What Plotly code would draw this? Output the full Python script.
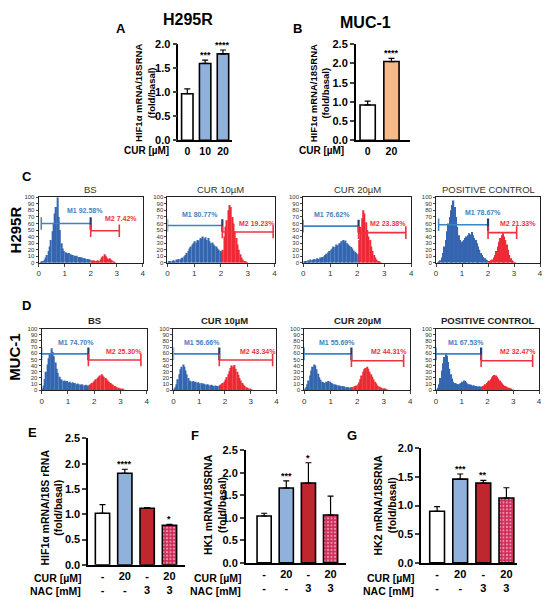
import plotly.graph_objects as go

W, H = 550, 613
FONT = "Liberation Sans, Arial, sans-serif"

# ---------------- data ----------------
A_labels = ["0", "10", "20"]
A_vals = [0.97, 1.60, 1.80]
A_err = [0.10, 0.07, 0.08]
A_stars = ["", "***", "****"]

B_labels = ["0", "20"]
B_vals = [0.92, 2.05]
B_err = [0.10, 0.08]
B_stars = ["", "****"]

CUR_labels = ["-", "20", "-", "20"]
NAC_labels = ["-", "-", "3", "3"]
E_vals = [1.02, 1.81, 1.12, 0.78]
E_err = [0.17, 0.08, 0.01, 0.02]
E_stars = ["", "****", "", "*"]
F_vals = [1.04, 1.66, 1.77, 1.06]
F_err = [0.06, 0.16, 0.45, 0.42]
F_stars = ["", "***", "*", ""]
G_vals = [0.90, 1.46, 1.39, 1.13]
G_err = [0.08, 0.09, 0.05, 0.18]
G_stars = ["", "***", "**", ""]

hist_titles = ["BS", "CUR 10µM", "CUR 20µM", "POSITIVE CONTROL"]
BIN = 0.05  # bin width of the flow-cytometry histograms (x from 0)

C_BS = [0, 1, 2, 3, 5, 8, 12, 18, 25, 35, 48, 60, 75, 85, 100, 70, 50, 30, 22, 18,
        16, 15, 14, 15, 13, 12, 12, 11, 10, 11, 9, 9, 8, 8, 7, 7, 6, 6, 5, 5,
        4, 3, 4, 3, 3, 4, 3, 5, 8, 10, 13, 11, 8, 6, 7, 5, 4, 2, 1]
C_CUR10 = [2, 3, 2, 3, 4, 3, 5, 4, 6, 5, 7, 8, 10, 12, 15, 18, 22, 25, 28, 30,
           33, 31, 35, 34, 38, 36, 40, 37, 39, 35, 38, 33, 30, 31, 28, 26, 25, 22, 20, 18,
           17, 20, 40, 55, 65, 80, 88, 85, 70, 60, 48, 38, 28, 20, 13, 8, 5, 3, 2, 1]
C_CUR20 = [2, 3, 3, 4, 3, 5, 4, 5, 6, 5, 7, 6, 8, 7, 9, 10, 12, 14, 16, 18,
           20, 22, 25, 24, 28, 27, 30, 29, 33, 35, 31, 34, 30, 28, 26, 24, 22, 19, 17, 15,
           13, 35, 55, 68, 80, 75, 62, 50, 40, 35, 25, 18, 12, 8, 5, 3, 2, 1]
C_PC = [0, 1, 2, 4, 8, 15, 25, 35, 48, 60, 70, 80, 88, 95, 85, 70, 55, 42, 35, 32,
        33, 35, 38, 40, 42, 45, 43, 47, 42, 38, 35, 30, 25, 20, 15, 12, 9, 7, 5, 4,
        3, 3, 4, 5, 8, 12, 18, 25, 32, 38, 42, 45, 40, 35, 28, 20, 12, 7, 4, 2, 1]
D_BS = [2, 8, 18, 30, 42, 52, 60, 68, 62, 55, 45, 35, 28, 22, 18, 17, 15, 16, 14, 15,
        13, 14, 12, 13, 11, 12, 10, 11, 10, 9, 10, 9, 8, 9, 8, 8,
        9, 10, 12, 14, 16, 18, 20, 22, 24, 26, 24, 22, 20, 18, 16, 14, 12, 10, 9, 7,
        6, 5, 4, 3, 3, 2, 1]
D_CUR10 = [2, 5, 10, 18, 26, 34, 38, 42, 38, 32, 26, 20, 16, 15, 14, 15, 13, 14, 12, 13,
           11, 12, 10, 11, 10, 9, 10, 9, 8, 9, 8, 7, 8, 7, 7, 8,
           9, 10, 12, 14, 17, 21, 26, 31, 36, 40, 38, 41, 35, 30, 25, 20, 16, 12, 9, 7,
           5, 4, 3, 2, 1]
D_CUR20 = [2, 5, 10, 16, 24, 32, 38, 42, 40, 34, 27, 21, 17, 14, 13, 12, 14, 13, 15, 14,
           12, 11, 10, 9, 9, 8, 8, 7, 7, 6, 6, 5, 5, 5, 4, 5,
           5, 6, 7, 8, 10, 13, 18, 24, 30, 34, 36, 38, 35, 30, 26, 22, 18, 14, 11, 8,
           6, 5, 4, 3, 2, 2, 1]
D_PC = [1, 4, 10, 20, 32, 44, 54, 60, 56, 46, 35, 26, 19, 14, 12, 11, 10, 10, 11, 12,
        14, 16, 15, 13, 11, 10, 9, 9, 8, 8, 7, 7, 6, 6, 6,
        6, 7, 8, 10, 12, 14, 16, 18, 21, 23, 25, 24, 22, 19, 16, 13, 11, 9, 7, 6,
        5, 4, 3, 2, 1]

C_m1_start = [0.1, 0.0, 0.0, 0.1]
C_m1_end = [2.0, 2.05, 2.05, 2.0]
C_m1_y = [60, 57, 56, 58]
C_m2_end = [3.1, 3.95, 3.8, 3.1]
C_m2_y = [49, 47, 46, 46]
C_m1_text = ["M1 92.58%", "M1 80.77%", "M1 76.62%", "M1 78.67%"]
C_m2_text = ["M2 7.42%", "M2 19.23%", "M2 23.38%", "M2 21.33%"]

D_m1_start = [0.0, 0.0, 0.0, 0.0]
D_m1_end = [1.78, 1.78, 1.78, 1.75]
D_m1_y = [59, 59, 59, 59]
D_m2_end = [3.78, 3.85, 3.75, 3.75]
D_m2_y = [49, 49, 48, 48]
D_m1_text = ["M1 74.70%", "M1 56.66%", "M1 55.69%", "M1 67.53%"]
D_m2_text = ["M2 25.30%", "M2 43.34%", "M2 44.31%", "M2 32.47%"]

# ---------------- styling ----------------
HBLUE, HRED = "#3566b0", "#ec2b36"
MBLUE, MRED = "#3f83c2", "#ec3340"
BAR_BLUE, BAR_RED, BAR_ORANGE = "#8fb1db", "#bf262d", "#f6b98a"
PAT_RED, PAT_LIGHT = "#cf2a58", "#b9d6d0"

fig = go.Figure()
layout = dict(width=W, height=H, margin=dict(l=0, r=0, t=0, b=0), autosize=False,
              paper_bgcolor="white", plot_bgcolor="white", showlegend=False,
              font=dict(family=FONT, color="black"))
annotations = []


def xd(a, b):
    return [a / W, b / W]


def yd(bottom, top):
    return [1 - bottom / H, 1 - top / H]


def pa(text, x, y, size, color="black", angle=0, xanchor="center", bold=True):
    annotations.append(dict(text=text, x=x / W, y=1 - y / H, xref="paper", yref="paper",
                            showarrow=False, textangle=angle, xanchor=xanchor, yanchor="middle",
                            font=dict(family=FONT, size=size, color=color,
                                      weight="bold" if bold else "normal")))


def bar_panel(n, xdom, ydom, xrange, yrange, dtick, vals, errs, stars, colors,
              ticktext, patterned=None, tickfs=11, ytfs=11):
    ax = "" if n == 1 else str(n)
    xs = list(range(len(vals)))
    shapes_ = ["." if (patterned and patterned[i]) else "" for i in xs]
    fig.add_trace(go.Bar(
        x=xs, y=vals, width=0.64, xaxis="x" + ax, yaxis="y" + ax,
        marker=dict(color=colors, line=dict(color="black", width=1.6),
                    pattern=dict(shape=shapes_, fgcolor=PAT_LIGHT,
                                 size=3.5, solidity=0.3, fillmode="overlay")),
        error_y=dict(type="data", array=errs, arrayminus=[0] * len(errs), symmetric=False,
                     color="black", thickness=1.2, width=3),
    ))
    layout["xaxis" + ax] = dict(domain=xdom, range=xrange, anchor="y" + ax, showline=True,
                                linecolor="black", linewidth=1.6, ticks="", showgrid=False,
                                zeroline=False, tickvals=xs, ticktext=ticktext,
                                tickfont=dict(size=tickfs, weight="bold", family=FONT))
    layout["yaxis" + ax] = dict(domain=ydom, range=yrange, anchor="x" + ax, showline=True,
                                linecolor="black", linewidth=1.6, ticks="outside", ticklen=4,
                                tickwidth=1.5, dtick=dtick, tickformat=".1f", showgrid=False,
                                zeroline=False, tickfont=dict(size=ytfs, weight="bold", family=FONT))
    for i, s in enumerate(stars):
        if s:
            annotations.append(dict(text=s, x=i, y=vals[i] + errs[i], xref="x" + ax, yref="y" + ax,
                                    showarrow=False, yanchor="bottom", yshift=-2,
                                    font=dict(family=FONT, size=9, weight="bold")))


def hist_panel(n, xdom, ydom, counts, thr, m1s, m1e, m1y, m2e, m2y, t1, t2, l1x, l1y, l2x, l2y):
    ax = str(n)
    centers = [BIN * i + BIN / 2 for i in range(len(counts))]
    cols = [HBLUE if c < thr else HRED for c in centers]
    fig.add_trace(go.Bar(x=centers, y=counts, width=BIN, marker=dict(color=cols, line=dict(width=0)),
                         xaxis="x" + ax, yaxis="y" + ax))
    fig.add_trace(go.Scatter(x=[m1s, m1e], y=[m1y, m1y], mode="lines+markers", xaxis="x" + ax,
                             yaxis="y" + ax, line=dict(color=MBLUE, width=1.6),
                             marker=dict(symbol="line-ns", size=9,
                                         line=dict(color=[MBLUE, "#1d3f75"], width=[1.5, 2.2]))))
    fig.add_trace(go.Scatter(x=[m1e, m2e], y=[m2y, m2y], mode="lines+markers", xaxis="x" + ax,
                             yaxis="y" + ax, line=dict(color=MRED, width=1.6),
                             marker=dict(symbol="line-ns", size=9, line=dict(color=MRED, width=1.6))))
    annotations.append(dict(text=t1, x=l1x, y=l1y, xref="x" + ax, yref="y" + ax, showarrow=False,
                            font=dict(family=FONT, size=7, color=MBLUE, weight="bold")))
    annotations.append(dict(text=t2, x=l2x, y=l2y, xref="x" + ax, yref="y" + ax, showarrow=False,
                            font=dict(family=FONT, size=7, color=MRED, weight="bold")))
    layout["xaxis" + ax] = dict(domain=xdom, range=[0, 4], anchor="y" + ax, showline=True, mirror=True,
                                linecolor="#222", linewidth=1, ticks="outside", ticklen=3,
                                tickvals=[0, 1, 2, 3, 4], showgrid=False, zeroline=False,
                                tickfont=dict(size=8, color="#333", family=FONT))
    layout["yaxis" + ax] = dict(domain=ydom, range=[0, 100], anchor="x" + ax, showline=True, mirror=True,
                                linecolor="#222", linewidth=1, ticks="outside", ticklen=2,
                                tickvals=list(range(0, 101, 10)), showgrid=False, zeroline=False,
                                tickfont=dict(size=6, color="#333", family=FONT))


# ---- A ----
bar_panel(1, xd(178, 232), yd(137, 39), [-0.5, 2.5], [0, 2.0], 0.5,
          A_vals, A_err, A_stars, ["white", BAR_BLUE, BAR_BLUE], A_labels, tickfs=10.5, ytfs=11)
# ---- B ----
bar_panel(2, xd(357, 412), yd(137, 39), [-0.5, 1.79], [0, 2.5], 0.5,
          B_vals, B_err, B_stars, ["white", BAR_ORANGE], B_labels, tickfs=10.5, ytfs=11)

# ---- C histograms ----
C_hists = [C_BS, C_CUR10, C_CUR20, C_PC]
C_x = [(37, 142), (167, 275), (304, 413), (438, 543)]
C_l1x = [1.8, 1.23, 1.06, 1.82]
C_l1y = [80, 74, 74, 77]
C_l2x = [3.17, 3.33, 3.14, 3.17]
C_l2y = [67, 60, 60, 60]
for k in range(4):
    hist_panel(3 + k, xd(*C_x[k]), yd(262, 195), C_hists[k], C_m1_end[k], C_m1_start[k], C_m1_end[k],
               C_m1_y[k], C_m2_end[k], C_m2_y[k], C_m1_text[k], C_m2_text[k],
               C_l1x[k], C_l1y[k], C_l2x[k], C_l2y[k])
    pa(hist_titles[k], (C_x[k][0] + C_x[k][1]) / 2, 187, 9.5, color="#333", bold=False)

# ---- D histograms ----
D_hists = [D_BS, D_CUR10, D_CUR20, D_PC]
D_x = [(40, 146), (173, 277), (305, 412), (438, 542)]
D_l1x = [1.32, 1.09, 1.25, 1.18]
D_l2x = [3.14, 3.3, 3.2, 3.17]
for k in range(4):
    hist_panel(7 + k, xd(*D_x[k]), yd(392, 329), D_hists[k], D_m1_end[k], D_m1_start[k], D_m1_end[k],
               D_m1_y[k], D_m2_end[k], D_m2_y[k], D_m1_text[k], D_m2_text[k],
               D_l1x[k], 78, D_l2x[k], 63)
    pa(hist_titles[k], (D_x[k][0] + D_x[k][1]) / 2, 321, 9.5, color="#222")

# ---- E, F, G ----
EFG_ticks = [c + "<br>" + nn for c, nn in zip(CUR_labels, NAC_labels)]
EFG_cols = ["white", BAR_BLUE, BAR_RED, PAT_RED]
pat = [False, False, False, True]
bar_panel(11, xd(87, 185), yd(570, 441), [-0.64, 3.71], [0, 2.5], 0.5,
          E_vals, E_err, E_stars, EFG_cols, EFG_ticks, patterned=pat)
bar_panel(12, xd(246, 347), yd(568, 453), [-0.83, 3.69], [0, 2.5], 0.5,
          F_vals, F_err, F_stars, EFG_cols, EFG_ticks, patterned=pat)
bar_panel(13, xd(423, 520), yd(568, 451), [-0.69, 3.47], [0, 2.0], 0.5,
          G_vals, G_err, G_stars, EFG_cols, EFG_ticks, patterned=pat)

# ---- text labels ----
pa("H295R", 188, 14, 16)
pa("MUC-1", 367, 17, 16)
pa("A", 120, 23, 13)
pa("B", 298, 23, 13)
pa("C", 25, 174, 13)
pa("D", 25, 305, 13)
pa("E", 31, 435, 13)
pa("F", 195, 438, 13)
pa("G", 353, 438, 13)
pa("H295R", 14, 228, 15, angle=-90)
pa("MUC-1", 13, 358, 15, angle=-90)

pa("HIF1α mRNA/18SRNA<br>(fold/basal)", 144, 89, 9.5, angle=-90)
pa("HIF1α mRNA/18SRNA<br>(fold/basal)", 320, 89, 9.5, angle=-90)
pa("HIF1α mRNA/18S rRNA<br>(fold/basal)", 50, 512, 10.5, angle=-90)
pa("HK1 mRNA/18SRNA<br>(fold/basal)", 215, 509, 10.5, angle=-90)
pa("HK2 mRNA/18SRNA<br>(fold/basal)", 387, 509, 10.5, angle=-90)

pa("CUR [µM]", 171, 147, 10, xanchor="right")
pa("CUR [µM]", 347, 147, 10, xanchor="right")
for xr in (82, 243, 418):
    pa("CUR [µM]", xr, 583, 10.5, xanchor="right")
    pa("NAC [mM]", xr, 597, 10.5, xanchor="right")

layout["annotations"] = annotations
fig.update_layout(**layout)
fig.write_html("out.html", config={"displayModeBar": False},
               post_script="document.body.style.margin='0';document.body.style.padding='0';")
